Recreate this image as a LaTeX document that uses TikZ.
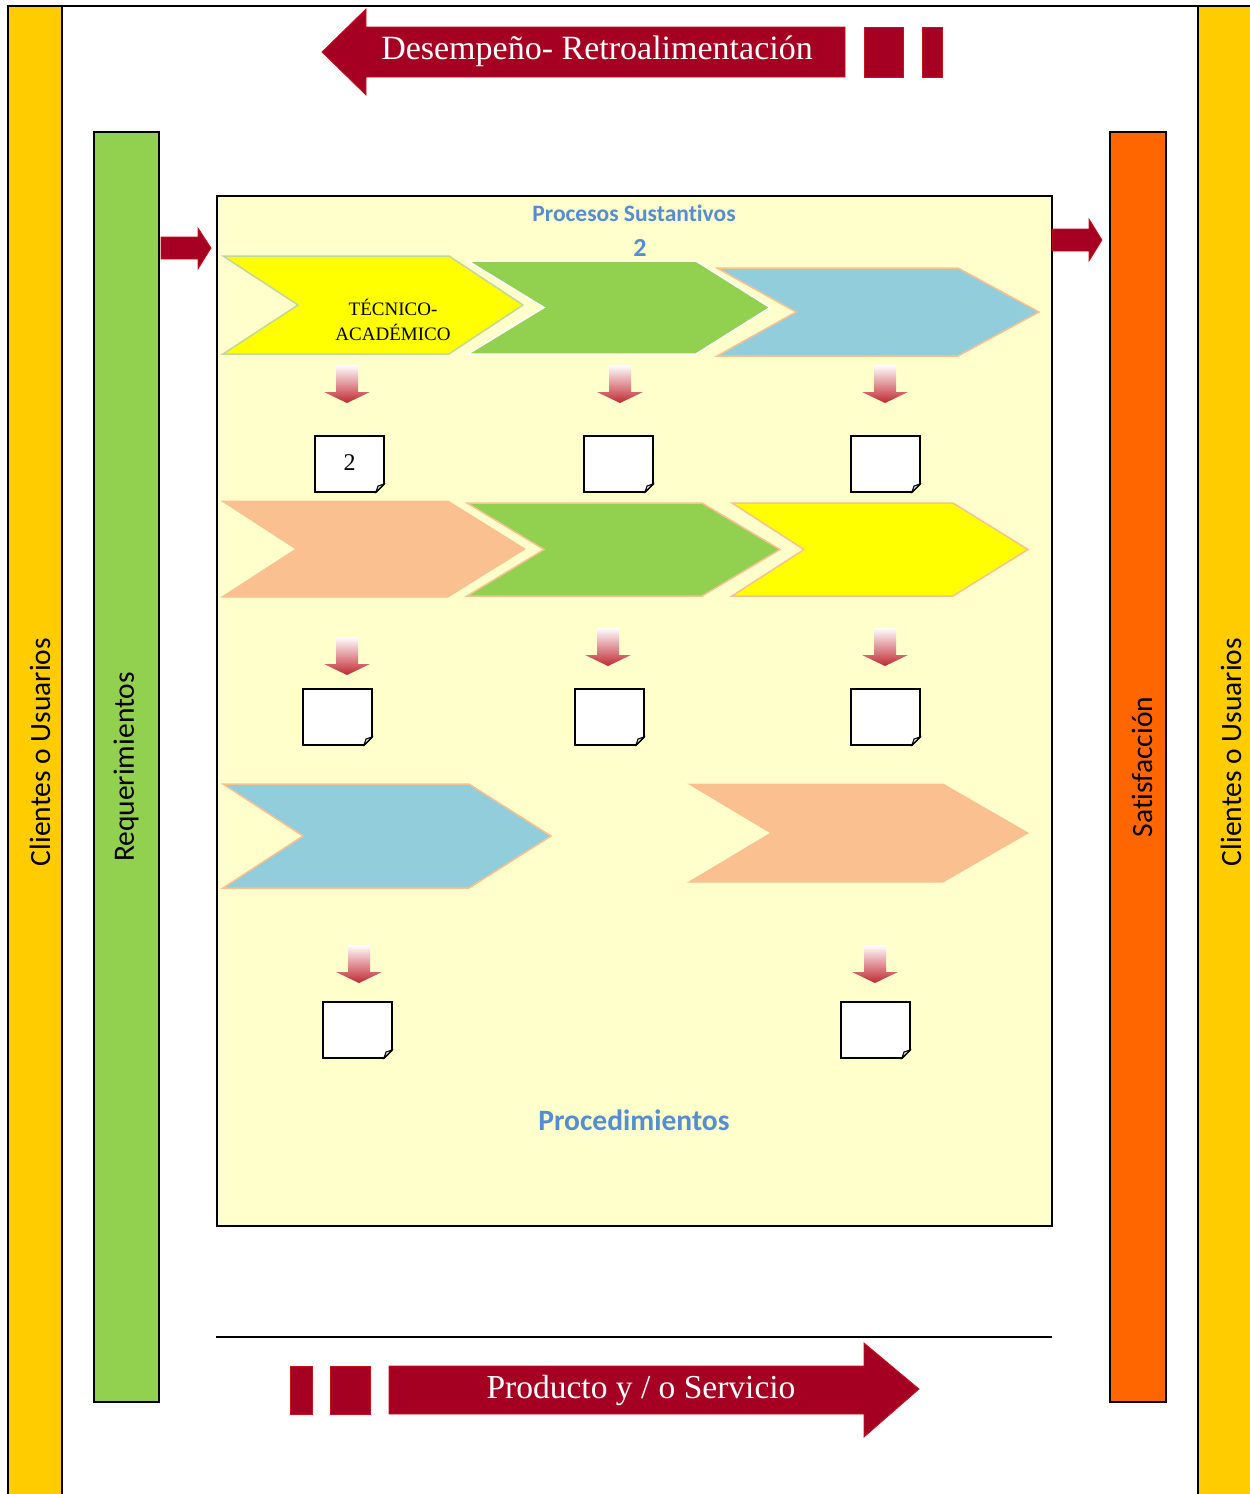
\documentclass[tikz,border=0pt]{standalone}
\usepackage{fontspec}
\setmainfont{Liberation Serif}
\newfontfamily\calib[Ligatures=NoCommon]{Carlito}
\definecolor{barYellow}{HTML}{FFCC00}
\definecolor{barGreen}{HTML}{92D050}
\definecolor{barOrange}{HTML}{FF6600}
\definecolor{boxFill}{HTML}{FFFFCC}
\definecolor{darkRed}{HTML}{A50021}
\definecolor{edgeRed}{HTML}{C8101E}
\definecolor{chYellow}{HTML}{FFFF00}
\definecolor{chBlue}{HTML}{92CDDC}
\definecolor{chPeach}{HTML}{FAC090}
\definecolor{chEdgeGreen}{HTML}{C3D69B}
\definecolor{txtBlue}{HTML}{548DD4}
\definecolor{arrRed}{RGB}{192,40,50}

\newcommand\mychev[7]{%
  \path[#1] (#2,#3) -- (#4,#3) -- (#5,{(#3+#6)/2}) -- (#4,#6) -- (#2,#6) -- (#7,{(#3+#6)/2}) -- cycle;}
\newcommand\mydarr[2]{%
  \shade[downarr] ({#1-11},#2) -- ({#1+11},#2) -- ({#1+11},{#2+27}) -- ({#1+23},{#2+27}) -- (#1,{#2+38}) -- ({#1-23},{#2+27}) -- ({#1-11},{#2+27}) -- cycle;}
\newcommand\mydoc[4]{%
  \path[docbox] (#2,#3) -- ({#2+69},#3) -- ({#2+69},{#3+48}) -- ({#2+61},{#3+56}) -- (#2,{#3+56}) -- cycle;
  \path[docfold] ({#2+61},{#3+56}) -- ({#2+63},{#3+50}) -- ({#2+69},{#3+48}) -- cycle;
  \node[doctext] (#1) at ({#2+34.5},{#3+27}) {#4};}

\begin{document}
\begin{tikzpicture}[x=1pt,y=-1pt,
  bar/.style={draw=black,line width=2pt},
  bigarrow/.style={fill=darkRed,draw=edgeRed,line width=0.8pt,line join=miter},
  downarr/.style={top color=white,bottom color=arrRed},
  docbox/.style={fill=white,draw=black,line width=1.8pt,line join=miter},
  docfold/.style={fill=gray!30,draw=black,line width=1pt},
  doctext/.style={font=\fontsize{24}{26}\selectfont},
  vtext/.style={rotate=90,font=\calib\fontsize{29.5}{33}\selectfont},
  bluetext/.style={text=txtBlue,font=\calib\bfseries},
  arrtext/.style={text=white,anchor=base}
]
\useasboundingbox (0,0) rectangle (1250,1494);

% outer side bars and top line
\path[bar,fill=barYellow] (8,6) rectangle (62,1500);
\path[bar,fill=barYellow] (1198,6) rectangle (1254,1500);
\draw[line width=2pt] (8,6) -- (1250,6);

% inner bars
\path[bar,fill=barGreen] (94,132) rectangle (159,1402);
\path[bar,fill=barOrange] (1110,132) rectangle (1166,1402);
\node[vtext] (cl1) at (40,752) {Clientes o Usuarios};
\node[vtext] (cl2) at (1231,752) {Clientes o Usuarios};
\node[vtext] (req) at (126,767) {Requerimientos};
\node[vtext] (sat) at (1142,767) {Satisfacción};

% main box
\path[draw=black,line width=1.8pt,fill=boxFill] (217,196) rectangle (1052,1226);
\node[bluetext,font=\calib\bfseries\fontsize{23.5}{26}\selectfont] (ps) at (634,213) {Procesos Sustantivos};
\node[bluetext,font=\calib\bfseries\fontsize{26}{28}\selectfont] (two) at (640,248) {2};
\node[bluetext,font=\calib\bfseries\fontsize{29.5}{32}\selectfont] (proc) at (634,1120) {Procedimientos};

% small side arrows
\path[bigarrow] (161,237) -- (198,237) -- (198,228) -- (211,248) -- (198,269) -- (198,259) -- (161,259) -- cycle;
\path[bigarrow] (1052,229) -- (1089,229) -- (1089,219) -- (1102,240) -- (1089,261) -- (1089,251) -- (1052,251) -- cycle;

% top feedback arrow
\path[bigarrow] (322,52) -- (366,9) -- (366,27) -- (845,27) -- (845,77) -- (366,77) -- (366,95) -- cycle;
\path[bigarrow] (864,27) rectangle (903,77);
\path[bigarrow] (922,27) rectangle (942,77);
\node[arrtext,font=\fontsize{34}{38}\selectfont] (fb) at (597,59) {Desempeño- Retroalimentación};

% bottom product arrow
\draw[line width=1.8pt] (216,1337) -- (1052,1337);
\path[bigarrow] (919,1389) -- (864,1343) -- (864,1366) -- (389,1366) -- (389,1414) -- (864,1414) -- (864,1437) -- cycle;
\path[bigarrow] (290,1366) rectangle (312,1414);
\path[bigarrow] (330,1366) rectangle (370,1414);
\node[arrtext,font=\fontsize{33.5}{38}\selectfont] (prod) at (641,1398) {Producto y / o Servicio};

% row 1 chevrons
\mychev{fill=chYellow,draw=chEdgeGreen,line width=1.5pt}{223}{256}{449}{523}{354}{298}
\mychev{fill=barGreen,draw=white,line width=1.5pt}{468}{261}{696}{770}{354}{544}
\mychev{fill=chBlue,draw=chPeach,line width=1.5pt}{717}{268}{958}{1039}{356}{796}
\node[align=center,font=\fontsize{19}{25}\selectfont] (tec) at (393,320) {TÉCNICO-\\ACADÉMICO};

% row 1 arrows and documents
\mydarr{347}{365}
\mydarr{620}{365}
\mydarr{885}{365}
\mydoc{d1}{315}{436}{2}
\mydoc{d2}{584}{436}{}
\mydoc{d3}{851}{436}{}

% row 2 chevrons
\mychev{fill=chPeach,draw=chPeach,line width=1pt}{222}{501}{448}{525}{597}{296}
\mychev{fill=barGreen,draw=chPeach,line width=1.5pt}{467}{503}{702}{780}{596}{544}
\mychev{fill=chYellow,draw=chPeach,line width=1.5pt}{732}{503}{953}{1028}{596}{804}

% row 2 arrows and documents
\mydarr{347}{637}
\mydarr{608}{628}
\mydarr{885}{628}
\mydoc{d4}{303}{689}{}
\mydoc{d5}{575}{689}{}
\mydoc{d6}{851}{689}{}

% row 3 chevrons
\mychev{fill=chBlue,draw=chPeach,line width=1.5pt}{223}{784}{469}{551}{888}{303}
\mychev{fill=chPeach,draw=chPeach,line width=1pt}{689}{784}{943}{1028}{882}{771}

% row 3 arrows and documents
\mydarr{359}{945}
\mydarr{875}{945}
\mydoc{d7}{323}{1002}{}
\mydoc{d8}{841}{1002}{}
\end{tikzpicture}
\end{document}
